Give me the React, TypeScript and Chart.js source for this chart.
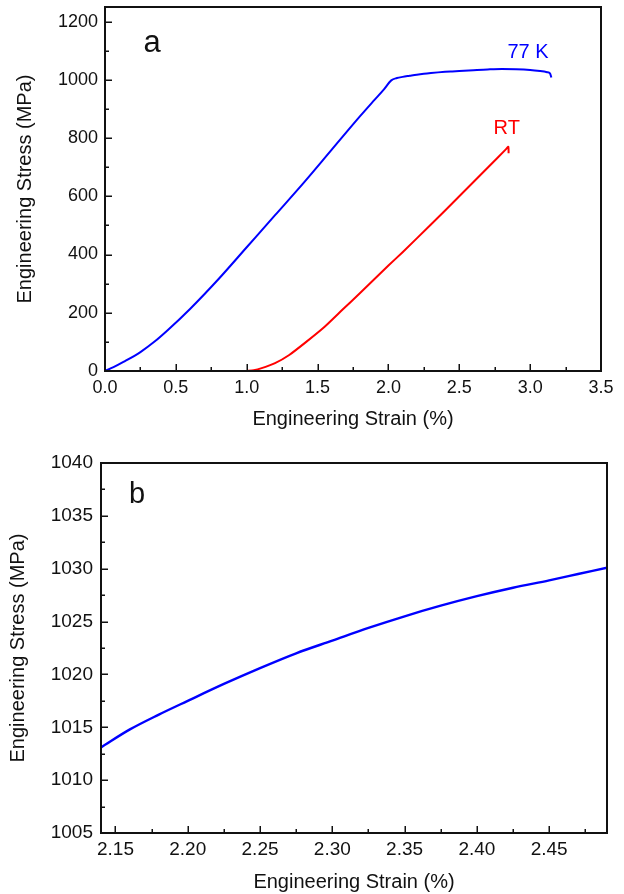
import React, { useEffect, useRef } from 'react';
import { Chart, registerables } from 'chart.js';

Chart.register(...registerables);

const FONT = "'Liberation Sans', Arial, Helvetica, sans-serif";
const INK = '#111111';
const BLUE = '#0000ff';
const RED = '#ff0000';

// ---------- Panel a ----------
const strain77K = [0, 0.06, 0.13, 0.25, 0.35, 0.44, 0.6, 0.8, 1.0, 1.2, 1.4, 1.6, 1.8, 1.9, 1.97, 2.02, 2.06, 2.1, 2.15, 2.2, 2.25, 2.3, 2.35, 2.4, 2.45, 2.5, 2.6, 2.7, 2.8, 2.9, 3.0, 3.07, 3.12, 3.14, 3.15];
const stress77K = [0, 13, 31, 65, 101, 139, 213, 315, 425, 535, 645, 760, 875, 930, 968, 998, 1006, 1010, 1013.8, 1017.5, 1020.6, 1023.2, 1025.5, 1027.4, 1028.9, 1030.3, 1033, 1035.5, 1037, 1036.5, 1034, 1030, 1026, 1022, 1008];

const strainRT = [1.0, 1.05, 1.1, 1.2, 1.3, 1.42, 1.55, 1.675, 1.8, 2.0, 2.1, 2.3, 2.5, 2.7, 2.83, 2.846, 2.848];
const stressRT = [0, 3, 9, 27, 55, 100, 152, 210, 268, 362, 408, 503, 600, 698, 762, 770, 748];

const xTicksA = [0, 0.5, 1.0, 1.5, 2.0, 2.5, 3.0, 3.5];
const xMinorA = [0.25, 0.75, 1.25, 1.75, 2.25, 2.75, 3.25];
const yTicksA = [0, 200, 400, 600, 800, 1000, 1200];
const yMinorA = [100, 300, 500, 700, 900, 1100];

// ---------- Panel b ----------
const strainB = [2.14, 2.16, 2.18, 2.2, 2.225, 2.25, 2.275, 2.3, 2.325, 2.35, 2.375, 2.4, 2.425, 2.45, 2.47, 2.49];
const stressB = [1013.1, 1014.8, 1016.2, 1017.5, 1019.1, 1020.6, 1022.0, 1023.2, 1024.4, 1025.5, 1026.5, 1027.4, 1028.2, 1028.9, 1029.5, 1030.1];

const xTicksB = [2.15, 2.2, 2.25, 2.3, 2.35, 2.4, 2.45];
const xMinorB = [2.175, 2.225, 2.275, 2.325, 2.375, 2.425, 2.475];
const yTicksB = [1005, 1010, 1015, 1020, 1025, 1030, 1035, 1040];
const yMinorB = [1007.5, 1012.5, 1017.5, 1022.5, 1027.5, 1032.5, 1037.5];

const toPoints = (xs: number[], ys: number[]) => xs.map((x, i) => ({ x, y: ys[i] }));

type Label = { text: string; x: number; y: number; color: string; size: number };

function makeFrame(xMajor: number[], xMinor: number[], yMajor: number[], yMinor: number[], labels: Label[]) {
  return {
    id: 'frame',
    afterDatasetsDraw(chart: any) {
      const { ctx, chartArea } = chart;
      const { left, right, top, bottom } = chartArea;
      const xs = chart.scales.x;
      const ys = chart.scales.y;
      ctx.save();
      ctx.strokeStyle = INK;
      ctx.lineWidth = 1.5;
      ctx.beginPath();
      const drawX = (list: number[], len: number) => {
        list.forEach((v) => {
          const px = Math.round(xs.getPixelForValue(v)) + 0.25;
          if (px < left - 0.5 || px > right + 0.5) return;
          ctx.moveTo(px, bottom);
          ctx.lineTo(px, bottom - len);
        });
      };
      const drawY = (list: number[], len: number) => {
        list.forEach((v) => {
          const py = Math.round(ys.getPixelForValue(v)) + 0.25;
          if (py < top - 0.5 || py > bottom + 0.5) return;
          ctx.moveTo(left, py);
          ctx.lineTo(left + len, py);
        });
      };
      drawX(xMajor, 7);
      drawX(xMinor, 4);
      drawY(yMajor, 7);
      drawY(yMinor, 4);
      ctx.stroke();
      ctx.lineWidth = 2;
      ctx.strokeRect(left, top, right - left, bottom - top);
      labels.forEach((l) => {
        ctx.font = `${l.size}px ${FONT}`;
        ctx.fillStyle = l.color;
        ctx.textAlign = 'center';
        ctx.textBaseline = 'alphabetic';
        ctx.fillText(l.text, xs.getPixelForValue(l.x), ys.getPixelForValue(l.y));
      });
      ctx.restore();
    },
  };
}

function axisCommon(tickSize: number, pad: number) {
  return {
    type: 'linear' as const,
    grid: { display: false, drawTicks: false },
    border: { display: false },
    ticks: {
      padding: pad,
      color: INK,
      font: { family: FONT, size: tickSize },
      autoSkip: false,
      maxRotation: 0,
    },
  };
}

const clearPad = (s: any) => {
  s.paddingTop = 0;
  s.paddingBottom = 0;
  s.paddingLeft = 0;
  s.paddingRight = 0;
};

function configA(): any {
  return {
    type: 'line',
    data: {
      datasets: [
        {
          data: toPoints(strain77K, stress77K),
          borderColor: BLUE,
          borderWidth: 2,
          pointRadius: 0,
          cubicInterpolationMode: 'monotone',
        },
        {
          data: toPoints(strainRT, stressRT),
          borderColor: RED,
          borderWidth: 2,
          pointRadius: 0,
          tension: 0.2,
        },
      ],
    },
    options: {
      responsive: false,
      animation: false,
      events: [],
      layout: { padding: { top: 7, right: 23, bottom: 0, left: 0 } },
      plugins: { legend: { display: false }, tooltip: { enabled: false } },
      scales: {
        x: {
          ...axisCommon(18, 6),
          min: 0,
          max: 3.5,
          afterBuildTicks: (s: any) => {
            s.ticks = xTicksA.map((v) => ({ value: v }));
          },
          afterFit: (s: any) => {
            s.height = 69;
            clearPad(s);
          },
          ticks: { ...axisCommon(18, 6).ticks, callback: (v: any) => Number(v).toFixed(1) },
          title: {
            display: true,
            text: 'Engineering Strain (%)',
            color: INK,
            font: { family: FONT, size: 20 },
            padding: { top: 0, bottom: 9 },
          },
        },
        y: {
          ...axisCommon(18, 7),
          min: 0,
          max: 1250,
          afterBuildTicks: (s: any) => {
            s.ticks = yTicksA.map((v) => ({ value: v }));
          },
          afterFit: (s: any) => {
            s.width = 105;
            clearPad(s);
          },
          ticks: { ...axisCommon(18, 7).ticks, callback: (v: any) => String(v) },
          title: {
            display: true,
            text: 'Engineering Stress (MPa)',
            color: INK,
            font: { family: FONT, size: 20 },
            padding: { top: 13, bottom: 0 },
          },
        },
      },
    },
    plugins: [
      makeFrame(xTicksA, xMinorA, yTicksA, yMinorA, [
        { text: 'a', x: 0.332, y: 1097, color: INK, size: 31 },
        { text: '77 K', x: 2.985, y: 1074, color: BLUE, size: 20 },
        { text: 'RT', x: 2.835, y: 814, color: RED, size: 20 },
      ]),
    ],
  };
}

function configB(): any {
  return {
    type: 'line',
    data: {
      datasets: [
        {
          data: toPoints(strainB, stressB),
          borderColor: BLUE,
          borderWidth: 2.4,
          pointRadius: 0,
          cubicInterpolationMode: 'monotone',
        },
      ],
    },
    options: {
      responsive: false,
      animation: false,
      events: [],
      layout: { padding: { top: 23, right: 17, bottom: 0, left: 0 } },
      plugins: { legend: { display: false }, tooltip: { enabled: false } },
      scales: {
        x: {
          ...axisCommon(19, 5),
          min: 2.14,
          max: 2.49,
          afterBuildTicks: (s: any) => {
            s.ticks = xTicksB.map((v) => ({ value: v }));
          },
          afterFit: (s: any) => {
            s.height = 61;
            clearPad(s);
          },
          ticks: { ...axisCommon(19, 5).ticks, callback: (v: any) => Number(v).toFixed(2) },
          title: {
            display: true,
            text: 'Engineering Strain (%)',
            color: INK,
            font: { family: FONT, size: 20 },
            padding: { top: 0, bottom: 0 },
          },
        },
        y: {
          ...axisCommon(19, 8),
          min: 1005,
          max: 1040,
          afterBuildTicks: (s: any) => {
            s.ticks = yTicksB.map((v) => ({ value: v }));
          },
          afterFit: (s: any) => {
            s.width = 101;
            clearPad(s);
          },
          ticks: { ...axisCommon(19, 8).ticks, callback: (v: any) => String(v) },
          title: {
            display: true,
            text: 'Engineering Stress (MPa)',
            color: INK,
            font: { family: FONT, size: 20 },
            padding: { top: 6, bottom: 0 },
          },
        },
      },
    },
    plugins: [
      makeFrame(xTicksB, xMinorB, yTicksB, yMinorB, [
        { text: 'b', x: 2.165, y: 1036.25, color: INK, size: 29 },
      ]),
    ],
  };
}

function ChartCanvas({ make, width, height }: { make: () => any; width: number; height: number }) {
  const ref = useRef<HTMLCanvasElement>(null);
  useEffect(() => {
    const chart = new Chart(ref.current as HTMLCanvasElement, make());
    return () => chart.destroy();
  }, []);
  return <canvas ref={ref} width={width} height={height} style={{ display: 'block', width, height }} />;
}

export default function App() {
  return (
    <div style={{ position: 'absolute', left: 0, top: 0, width: 624, height: 894, background: '#ffffff' }}>
      <ChartCanvas make={configA} width={624} height={440} />
      <ChartCanvas make={configB} width={624} height={454} />
    </div>
  );
}
